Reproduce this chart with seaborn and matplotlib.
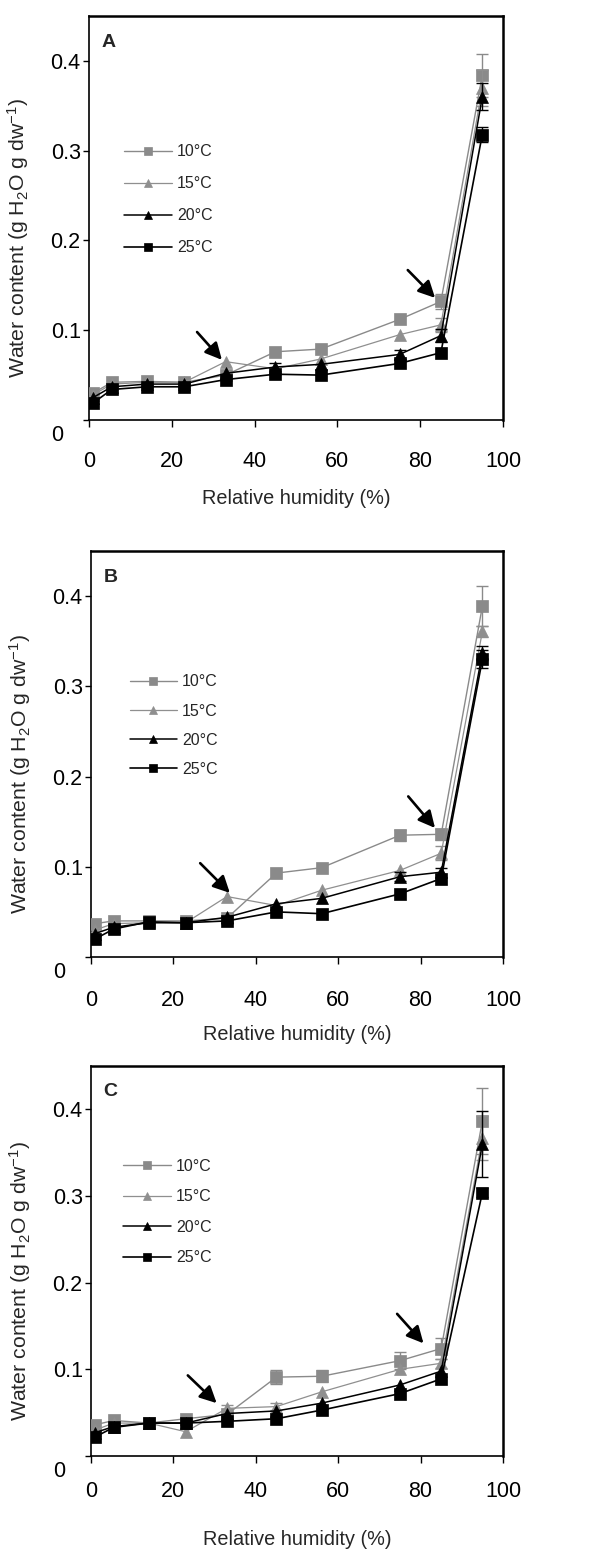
import numpy as np
import pandas as pd
import matplotlib
matplotlib.use("Agg")
import matplotlib.pyplot as plt
import seaborn as sns
from matplotlib.transforms import ScaledTranslation

# ---------------- data ----------------
rh = [1, 5.5, 14, 23, 33, 45, 56, 75, 85, 95]
temps = ["10°C", "15°C", "20°C", "25°C"]
x_ticks = [0, 20, 40, 60, 80, 100]
y_ticks = [0, 0.1, 0.2, 0.3, 0.4]
y_ticklabels = ["0", "0.1", "0.2", "0.3", "0.4"]
panel_labels = ["A", "B", "C"]

# Panel A
a_10 = [0.030, 0.042, 0.043, 0.042, 0.050, 0.076, 0.079, 0.112, 0.132, 0.384]
a_15 = [0.028, 0.040, 0.042, 0.042, 0.065, 0.057, 0.068, 0.095, 0.106, 0.370]
a_20 = [0.025, 0.037, 0.040, 0.040, 0.052, 0.059, 0.062, 0.073, 0.094, 0.360]
a_25 = [0.019, 0.034, 0.037, 0.037, 0.045, 0.051, 0.050, 0.063, 0.075, 0.318]
a_e10 = [0, 0, 0, 0, 0, 0, 0, 0, 0.008, 0.024]
a_e15 = [0, 0, 0, 0, 0, 0, 0, 0, 0.008, 0.020]
a_e20 = [0, 0, 0, 0, 0, 0.004, 0, 0.005, 0.007, 0.015]
a_e25 = [0, 0, 0, 0, 0, 0, 0, 0, 0, 0.008]

# Panel B
b_10 = [0.037, 0.040, 0.040, 0.040, 0.043, 0.093, 0.099, 0.135, 0.136, 0.389]
b_15 = [0.030, 0.037, 0.038, 0.038, 0.067, 0.057, 0.074, 0.096, 0.115, 0.361]
b_20 = [0.026, 0.033, 0.038, 0.038, 0.044, 0.059, 0.065, 0.089, 0.094, 0.337]
b_25 = [0.020, 0.031, 0.039, 0.038, 0.040, 0.050, 0.048, 0.070, 0.087, 0.330]
b_e10 = [0, 0, 0, 0, 0, 0, 0, 0.006, 0.006, 0.022]
b_e15 = [0, 0, 0, 0, 0, 0, 0, 0, 0.008, 0.006]
b_e20 = [0, 0, 0, 0, 0, 0, 0, 0.005, 0.005, 0.008]
b_e25 = [0, 0, 0, 0, 0, 0, 0, 0, 0, 0.010]

# Panel C
c_10 = [0.036, 0.041, 0.038, 0.043, 0.048, 0.091, 0.092, 0.110, 0.124, 0.387]
c_15 = [0.030, 0.038, 0.038, 0.028, 0.055, 0.057, 0.074, 0.100, 0.107, 0.367]
c_20 = [0.027, 0.034, 0.038, 0.038, 0.049, 0.052, 0.061, 0.082, 0.098, 0.360]
c_25 = [0.022, 0.033, 0.038, 0.038, 0.040, 0.043, 0.053, 0.072, 0.089, 0.304]
c_e10 = [0, 0, 0, 0, 0, 0.008, 0.007, 0.010, 0.012, 0.038]
c_e15 = [0, 0, 0, 0, 0.004, 0.004, 0, 0, 0.005, 0.025]
c_e20 = [0, 0, 0, 0, 0, 0, 0, 0, 0, 0.038]
c_e25 = [0, 0, 0, 0, 0, 0, 0, 0, 0, 0.005]

panels = [
    ([a_10, a_15, a_20, a_25], [a_e10, a_e15, a_e20, a_e25]),
    ([b_10, b_15, b_20, b_25], [b_e10, b_e15, b_e20, b_e25]),
    ([c_10, c_15, c_20, c_25], [c_e10, c_e15, c_e20, c_e25]),
]

# ---------------- style ----------------
sns.set_theme(style="ticks")
plt.rcParams["font.family"] = ["Liberation Sans", "DejaVu Sans"]
plt.rcParams["mathtext.default"] = "regular"

fig = plt.figure(figsize=(5.93, 15.61), dpi=100)
W, H = 593.0, 1561.0

# axes boxes in pixels: left, top, right, bottom
boxes = [(89, 16, 503, 420), (91, 551, 503, 957), (91, 1066, 503, 1456)]
xlabel_y = [-0.171, -0.167, -0.19]
xtick_pad = [17, 19, 13]
legend_anchor = [(0.07, 0.698), (0.078, 0.712), (0.063, 0.779)]
legend_spacing = [1.06, 0.89, 0.975]
arrows = [
    [((26.1, 0.098), (32.1, 0.067)), ((77.0, 0.167), (83.6, 0.136))],
    [((26.5, 0.104), (33.7, 0.071)), ((77.0, 0.178), (83.5, 0.143))],
    [((23.5, 0.093), (30.5, 0.061)), ((74.3, 0.164), (80.7, 0.130))],
]

colors = ["#8a8a8a", "#8f8f8f", "#000000", "#000000"]
markers = ["s", "^", "^", "s"]
lws = [1.0, 0.9, 1.1, 1.2]

for p, ((series, errs), box) in enumerate(zip(panels, boxes)):
    l, t, r, b = box
    ax = fig.add_axes([l / W, 1 - b / H, (r - l) / W, (b - t) / H])
    for k in range(4):
        df = pd.DataFrame({"rh": rh, "wc": series[k], "err": errs[k]})
        m = df["err"] > 0
        ax.errorbar(df.loc[m, "rh"], df.loc[m, "wc"], yerr=df.loc[m, "err"],
                    fmt="none", ecolor=colors[k], elinewidth=1.0,
                    capsize=4.3, capthick=1.0, zorder=2 + k)
        sns.lineplot(data=df, x="rh", y="wc", ax=ax, color=colors[k],
                     marker=markers[k], markersize=8.5, linewidth=lws[k],
                     markeredgecolor=colors[k], markeredgewidth=0.5,
                     label=temps[k], zorder=3 + k, sort=False)
    ax.set_xlim(0, 100)
    ax.set_ylim(0, 0.45)
    ax.set_xticks(x_ticks)
    ax.set_xticklabels([str(v) for v in x_ticks])
    ax.set_yticks(y_ticks)
    ax.set_yticklabels(y_ticklabels)
    ax.tick_params(axis="both", labelsize=15.5, colors="black", direction="out")
    ax.tick_params(axis="x", length=5, width=1.0, pad=xtick_pad[p])
    ax.tick_params(axis="y", length=4, width=1.0, pad=2)
    for s in ["left", "bottom"]:
        ax.spines[s].set_linewidth(1.2)
        ax.spines[s].set_color("black")
    for s in ["top", "right"]:
        ax.spines[s].set_visible(True)
        ax.spines[s].set_linewidth(1.8)
        ax.spines[s].set_color("black")

    # "0" label sits lower-left of the axis origin in the original
    zl = ax.yaxis.get_major_ticks()[0].label1
    zl.set_transform(zl.get_transform() + ScaledTranslation(-0.17, -0.13, fig.dpi_scale_trans))

    ax.set_xlabel("Relative humidity (%)", fontsize=14.3)
    ax.xaxis.set_label_coords(0.5, xlabel_y[p])
    ax.set_ylabel("Water content (g H$_2$O g dw$^{-1}$)", fontsize=15.3)
    ax.yaxis.set_label_coords(-0.14, 0.45)

    ax.text(0.03, 0.935, panel_labels[p], transform=ax.transAxes, fontsize=14,
            fontweight="bold", ha="left", va="center")

    for tail, head in arrows[p]:
        ax.annotate("", xy=head, xytext=tail,
                    arrowprops=dict(arrowstyle="-|>", color="black", lw=1.9,
                                    mutation_scale=25, shrinkA=0, shrinkB=0),
                    zorder=10)

    ax.legend(frameon=False, loc="upper left", bbox_to_anchor=legend_anchor[p],
              fontsize=11.5, handlelength=3.0, markerscale=0.75,
              labelspacing=legend_spacing[p], handletextpad=0.3, borderaxespad=0)

fig.savefig("out.png", dpi=100)
